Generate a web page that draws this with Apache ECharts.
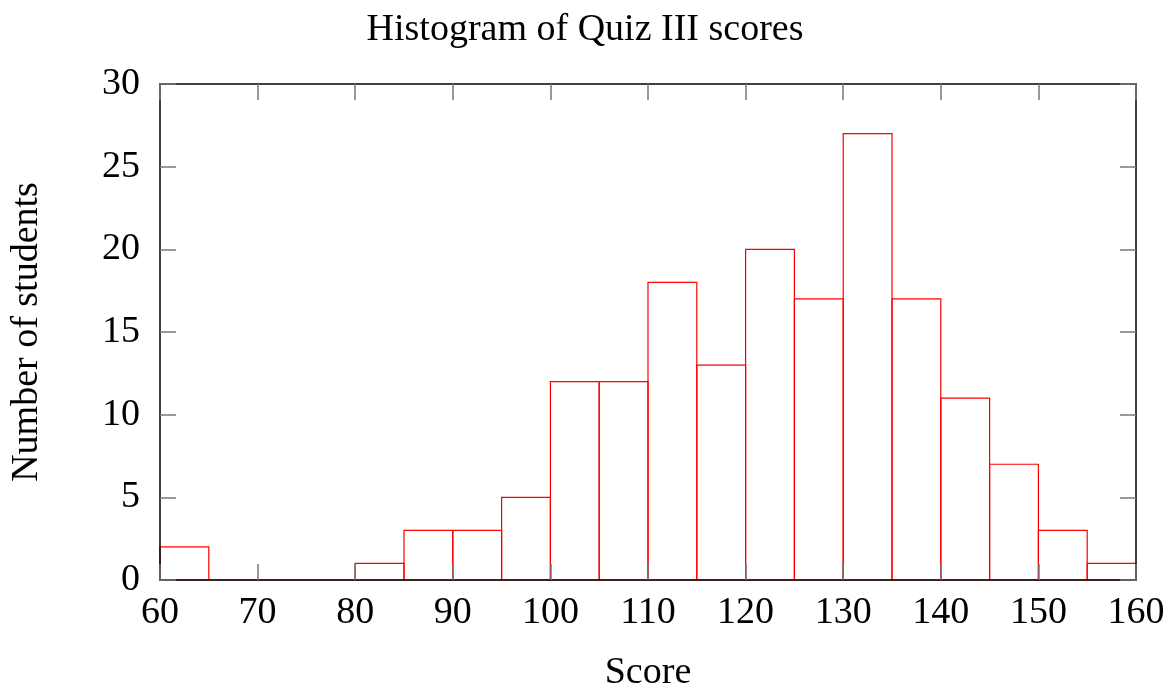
<!DOCTYPE html>
<html>
<head>
<meta charset="utf-8">
<script src="https://cdn.jsdelivr.net/npm/echarts@6/dist/echarts.min.js"></script>
<style>
  html, body { margin: 0; padding: 0; background: #fff; }
  #chart { width: 1170px; height: 688px; }
</style>
</head>
<body>
<div id="chart"></div>
<script>
// bins of width 5, from 60 to 160
const binStarts = [60, 65, 70, 75, 80, 85, 90, 95, 100, 105, 110, 115, 120, 125, 130, 135, 140, 145, 150, 155];
const binWidth = 5;
const counts = [2, 0, 0, 0, 1, 3, 3, 5, 12, 12, 18, 13, 20, 17, 27, 17, 11, 7, 3, 1];
const xTicks = [60, 70, 80, 90, 100, 110, 120, 130, 140, 150, 160];
const yTicks = [0, 5, 10, 15, 20, 25, 30];

const fontFam = '"Liberation Serif", "DejaVu Serif", serif';
const fs = 38;
const chart = echarts.init(document.getElementById('chart'));

const tick = { show: true, inside: true, length: 16, lineStyle: { color: '#777', width: 1.5 } };
const line = { show: true, onZero: false, lineStyle: { color: '#000', width: 1.5 } };

const option = {
  animation: false,
  backgroundColor: '#fff',
  title: {
    text: 'Histogram of Quiz III scores',
    left: 'center',
    top: 6,
    textStyle: { fontFamily: fontFam, fontSize: fs, fontWeight: 'normal', color: '#000' }
  },
  grid: { left: 160, right: 34, top: 84, bottom: 108, containLabel: false, outerBoundsMode: 'none' },
  xAxis: [
    {
      type: 'value', min: xTicks[0], max: xTicks[xTicks.length - 1], interval: 10,
      position: 'bottom', z: 5,
      name: 'Score', nameLocation: 'middle', nameGap: 74,
      nameTextStyle: { fontFamily: fontFam, fontSize: fs, color: '#000' },
      axisLine: line, axisTick: tick,
      axisLabel: { fontFamily: fontFam, fontSize: fs, color: '#000', margin: 14 },
      splitLine: { show: false }
    },
    {
      type: 'value', min: xTicks[0], max: xTicks[xTicks.length - 1], interval: 10,
      position: 'top', z: 5,
      axisLine: line, axisTick: tick, axisLabel: { show: false }, splitLine: { show: false }
    }
  ],
  yAxis: [
    {
      type: 'value', min: yTicks[0], max: yTicks[yTicks.length - 1], interval: 5,
      position: 'left', z: 5,
      name: 'Number of students', nameLocation: 'middle', nameGap: 114,
      nameTextStyle: { fontFamily: fontFam, fontSize: fs, color: '#000' },
      axisLine: line, axisTick: tick,
      axisLabel: { fontFamily: fontFam, fontSize: fs, color: '#000', margin: 20 },
      splitLine: { show: false }
    },
    {
      type: 'value', min: yTicks[0], max: yTicks[yTicks.length - 1], interval: 5,
      position: 'right', z: 5,
      axisLine: line, axisTick: tick, axisLabel: { show: false }, splitLine: { show: false }
    }
  ],
  series: [{
    type: 'custom',
    xAxisIndex: 0,
    yAxisIndex: 0,
    data: binStarts.map((s, i) => [s, s + binWidth, counts[i]]),
    renderItem: function (params, api) {
      const p0 = api.coord([api.value(0), 0]);
      const p1 = api.coord([api.value(1), api.value(2)]);
      return {
        type: 'rect',
        shape: { x: p0[0], y: p1[1], width: p1[0] - p0[0], height: p0[1] - p1[1] },
        style: { fill: 'none', stroke: '#ff0000', lineWidth: 1.2 }
      };
    },
    z: 1
  }]
};

chart.setOption(option);
</script>
</body>
</html>
